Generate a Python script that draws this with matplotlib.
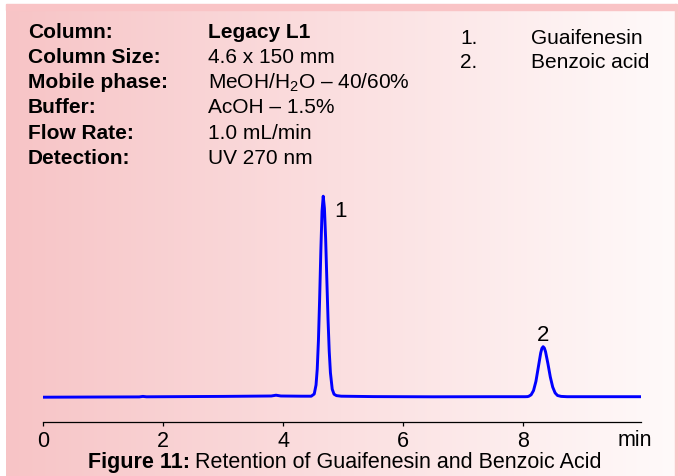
import numpy as np
import matplotlib
matplotlib.use("Agg")
import matplotlib.pyplot as plt
from matplotlib.patches import Rectangle

plt.rcParams['font.family'] = ['Liberation Sans', 'DejaVu Sans']
plt.rcParams['mathtext.fontset'] = 'custom'
plt.rcParams['mathtext.rm'] = 'Liberation Sans'

# chromatogram trace (time in min, detector signal)
time_min = [0.0, 1.0, 1.6, 1.66, 1.72, 3.0, 3.8, 3.88, 3.96, 4.3, 4.467,
            4.517, 4.547, 4.567, 4.587, 4.607, 4.627, 4.647, 4.667, 4.687,
            4.707, 4.727, 4.747, 4.767, 4.787, 4.817, 4.847, 4.887, 4.967,
            5.5, 6.5, 7.5, 8.033, 8.073, 8.093, 8.133, 8.173, 8.213, 8.253,
            8.293, 8.313, 8.333, 8.353, 8.373, 8.413, 8.453, 8.493, 8.533,
            8.573, 8.633, 8.733, 9.96]
signal = [0.0, 0.2, 0.3, 0.8, 0.4, 0.8, 1.2, 2.0, 1.2, 1.0, 1.0,
          3.2, 12.2, 28.0, 56.6, 98.0, 146.0, 186.0, 201.0, 189.0,
          159.0, 118.0, 78.0, 46.0, 24.5, 8.0, 3.0, 1.6, 1.0,
          0.6, 0.4, 0.5, 0.5, 0.6, 0.9, 2.4, 6.6, 15.8, 30.0,
          44.3, 48.9, 50.5, 49.2, 45.6, 33.6, 20.2, 10.1, 4.3,
          1.7, 0.8, 0.5, 0.5]

peak_ids = ['1', '2']
peak_times = [4.667, 8.333]
peak_heights = [201.0, 50.5]
compounds = ['Guaifenesin', 'Benzoic acid']

info_labels = ['Column:', 'Column Size:', 'Mobile phase:', 'Buffer:',
               'Flow Rate:', 'Detection:']
info_values = ['Legacy L1', '4.6 x 150 mm', 'MeOH/H$_2$O \u2013 40/60%',
               'AcOH \u2013 1.5%', '1.0 mL/min', 'UV 270 nm']

x_ticks = [0, 2, 4, 6, 8]

W, H = 678, 477
fig = plt.figure(figsize=(W / 100, H / 100), dpi=100)

# pink to white gradient panel
bg = fig.add_axes([6 / W, 0, 670 / W, 472 / H])
grad = np.linspace(0, 1, 256)[None, :]
left_c = np.array([247, 196, 198]) / 255
right_c = np.array([255, 250, 250]) / 255
img = left_c[None, None, :] * (1 - grad[..., None]) + right_c[None, None, :] * grad[..., None]
bg.imshow(img, aspect='auto', extent=[0, 1, 0, 1])
bg.axis('off')
fig.patches.append(Rectangle((6 / W, 1 - 11 / H), 670 / W, 6 / H,
                             transform=fig.transFigure, color='#f9c4c6', zorder=1))
fig.patches.append(Rectangle((675 / W, 0), 1.5 / W, 1 - 5 / H,
                             transform=fig.transFigure, color='#f9c4c6', zorder=1))

# main chromatogram axes
x0, x1 = 43.3, 640.7
y_axis = 422.7
y_top = 190.0
ax = fig.add_axes([x0 / W, 1 - y_axis / H, (x1 - x0) / W, (y_axis - y_top) / H])
ax.patch.set_alpha(0)
ax.plot(time_min, signal, color='#0000ff', lw=2.1, solid_joinstyle='round')
ax.set_xlim(0, 9.96)
ax.set_ylim(-24.5, 208.2)
for s in ['top', 'right', 'left']:
    ax.spines[s].set_visible(False)
ax.spines['bottom'].set_linewidth(0.9)
ax.set_yticks([])
ax.set_xticks(x_ticks)
ax.set_xticklabels([str(t) for t in x_ticks])
ax.tick_params(axis='x', length=3, width=0.9, labelsize=15.5, pad=3.2)
ax.text(9.86, -42.5, 'min', fontsize=15.5, ha='center', va='center',
        clip_on=False)

for pid, pt, ph in zip(peak_ids, peak_times, peak_heights):
    dx = 0.28 if pid == '1' else 0.0
    dy = -14 if pid == '1' else 12
    ax.text(pt + dx, ph + dy, pid, fontsize=16, ha='center', va='center')

# method info
for i, (lab, val) in enumerate(zip(info_labels, info_values)):
    y = 1 - (32 + i * 25.3) / H
    fig.text(28 / W, y, lab, fontsize=15, fontweight='bold', va='center')
    fig.text(208 / W, y, val, fontsize=15, va='center',
             fontweight='bold' if i == 0 else 'normal')

# compound list
for i, name in enumerate(compounds):
    y = 1 - (39 + i * 23.5) / H
    fig.text(460 / W, y, f'{i + 1}.', fontsize=15, va='center')
    fig.text(531 / W, y, name, fontsize=15, va='center')

# caption
t1 = fig.text(88 / W, 1 - 463 / H, 'Figure 11:', fontsize=15.5, fontweight='bold', va='center')
fig.canvas.draw()
bb = t1.get_window_extent()
fig.text(bb.x1 / W + 5 / W, 1 - 463 / H, 'Retention of Guaifenesin and Benzoic Acid',
         fontsize=15.5, va='center')

fig.savefig('out.png', dpi=100)
